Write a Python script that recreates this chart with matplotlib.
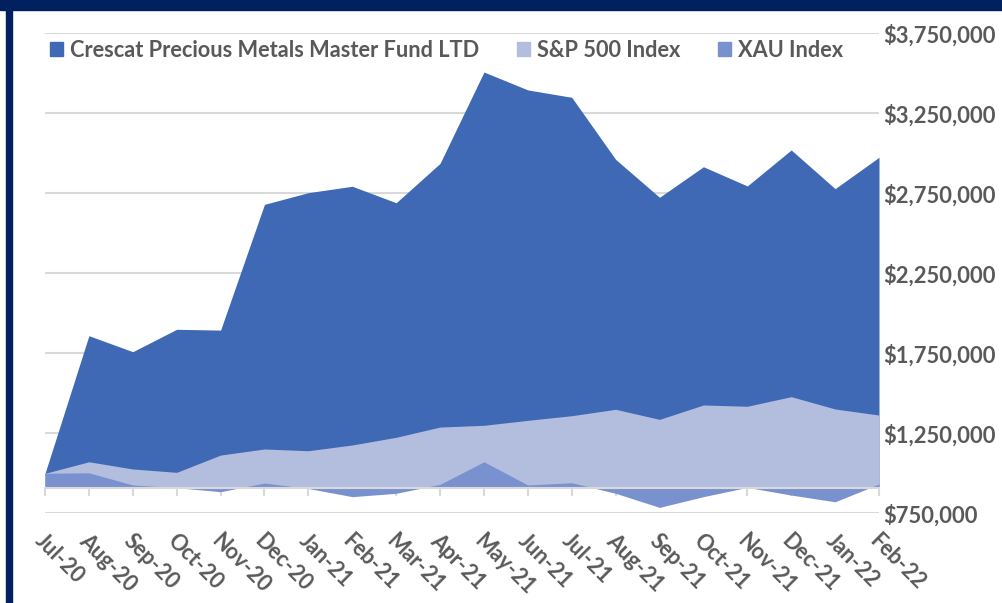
import matplotlib.pyplot as plt
from matplotlib.patches import Patch, Rectangle
from matplotlib.ticker import FuncFormatter
import matplotlib.transforms as mtransforms

months = ['Jul-20', 'Aug-20', 'Sep-20', 'Oct-20', 'Nov-20', 'Dec-20', 'Jan-21',
          'Feb-21', 'Mar-21', 'Apr-21', 'May-21', 'Jun-21', 'Jul-21', 'Aug-21',
          'Sep-21', 'Oct-21', 'Nov-21', 'Dec-21', 'Jan-22', 'Feb-22']
# Valor de $1,000,000 invertidos
crescat = [1000000, 1860000, 1760000, 1900000, 1895000, 2681000, 2754000,
           2794000, 2691000, 2937000, 3508000, 3396000, 3350000, 2962000,
           2725000, 2916000, 2796000, 3021000, 2779000, 2975000]
sp500 = [1000000, 1072000, 1027000, 1006000, 1114000, 1152000, 1141000,
         1177000, 1225000, 1289000, 1300000, 1331000, 1360000, 1400000,
         1337000, 1427000, 1419000, 1479000, 1402000, 1364000]
xau = [1000000, 1003000, 927000, 910000, 885000, 939000, 905000,
       854000, 875000, 931000, 1072000, 927000, 941000, 875000,
       787000, 854000, 912000, 864000, 822000, 933000]
series_names = ['Crescat Precious Metals Master Fund LTD', 'S&P 500 Index', 'XAU Index']
colors = ['#3F69B4', '#B3BDDE', '#7A91D0']
baseline = 906000  # donde cruza el eje de categorias

plt.rcParams['font.family'] = ['Lato', 'DejaVu Sans']
plt.rcParams['font.weight'] = 'bold'
gris = '#595959'

fig = plt.figure(figsize=(10.03, 6.03), dpi=100)
W, H = 1003, 603
ax = fig.add_axes([45 / W, (H - 513.3) / H, (879 - 45) / W, (513.3 - 33.3) / H])

x = list(range(len(months)))
for vals, c in zip([crescat, sp500, xau], colors):
    ax.fill_between(x, baseline, vals, color=c, linewidth=0)

ax.set_xlim(0, len(months) - 1)
ax.set_ylim(750000, 3750000)
ax.set_yticks(range(750000, 3750001, 500000))
ax.yaxis.set_major_formatter(FuncFormatter(lambda v, p: f'${v:,.0f}'))
ax.yaxis.tick_right()
ax.tick_params(axis='y', length=0, pad=3, labelsize=15.8, labelcolor=gris)
ax.grid(axis='y', color='#D9D9D9', linewidth=1.5)
ax.set_axisbelow(True)

for s in ['top', 'left', 'right']:
    ax.spines[s].set_visible(False)
ax.spines['bottom'].set_position(('data', baseline))
ax.spines['bottom'].set_color('#D9D9D9')
ax.spines['bottom'].set_linewidth(1.5)
ax.set_xticks(x)
ax.tick_params(axis='x', direction='out', length=6, width=1.5, color='#D9D9D9', labelbottom=False)

trans = mtransforms.blended_transform_factory(ax.transData, ax.transAxes)
for i, m in enumerate(months):
    ax.text(i - 0.14, -0.05, m, transform=trans, rotation=-45, rotation_mode='anchor',
            ha='left', va='center', fontsize=15.5, color=gris, fontweight='bold')

handles = [Patch(color=c) for c in colors]
fig.legend(handles, series_names, loc='upper left', bbox_to_anchor=(50 / W, 1 - 40 / H),
           ncol=3, frameon=False, fontsize=15.7, labelcolor=gris, borderpad=0, borderaxespad=0,
           handlelength=0.6, handleheight=0.6, handletextpad=0.32, columnspacing=1.72)

# Marco azul oscuro
fig.add_artist(Rectangle((0, 1 - 10 / H), 1, 10 / H, transform=fig.transFigure, color='#002060'))
fig.add_artist(Rectangle((6 / W, 0), 5.5 / W, 1, transform=fig.transFigure, color='#002060'))

fig.savefig('out.png', dpi=100)
